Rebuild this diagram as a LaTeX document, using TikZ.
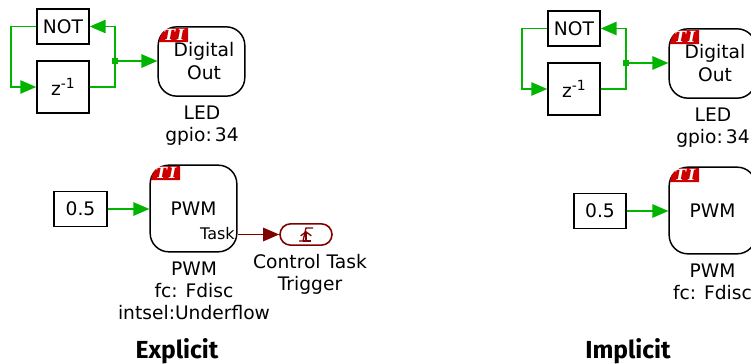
\documentclass[tikz,border=0pt]{standalone}
\usepackage{fontspec}
\usetikzlibrary{arrows.meta}
\usetikzlibrary{shapes}
\usetikzlibrary{calc}
\setmainfont{DejaVu Sans}
\newfontfamily\capfont{Fira Sans}
\newfontfamily\tagfont{DejaVu Serif}
\definecolor{wiregreen}{RGB}{0,180,0}
\definecolor{taskred}{RGB}{128,0,0}
\definecolor{tagred}{RGB}{204,0,0}
\tikzset{
  wire/.style={wiregreen, line width=1.3pt},
  wirearrow/.style={wire, -{Triangle[length=12pt,width=10pt]}},
  taskarrow/.style={taskred, line width=1.3pt, -{Triangle[length=12pt,width=10pt]}},
  sqblock/.style={draw=black, line width=1.1pt, inner sep=0pt, font=\fontsize{14}{16}\selectfont, minimum width=39pt},
  tiblock/.style={draw=black, line width=1.1pt, rounded corners=14pt, inner sep=0pt, minimum width=65pt, align=center, font=\fontsize{14}{16.5}\selectfont},
  tilabel/.style={align=center, inner sep=0pt, font=\fontsize{14}{16.5}\selectfont},
  titag/.style={inner sep=0pt, text=white, font=\fontsize{11.5}{12}\tagfont\bfseries\itshape},
  capsule/.style={draw=taskred, line width=1.2pt, rounded rectangle, inner sep=0pt, minimum width=39pt, minimum height=16pt},
  captext/.style={inner sep=0pt, font=\fontsize{18.5}{20}\capfont\bfseries}
}
% red corner of a block, #1 #2 = top left of the block
\newcommand\tibadge[3]{
  \fill[tagred, shift={(#1,#2)}] (1,15) .. controls (2,6) and (7,1) .. (15,1) -- (30,1) -- (30,15) --cycle;
  \node[titag] (#3) at (#1+16,#2+8) {T\kern1.5pt I};
}
% the NOT / delay loop with the digital output, #1 #2 = top left of NOT
\newcommand\ledloop[3]{
  \node[sqblock, minimum height=26pt] (#3not) at (#1+26,#2+17.5) {NOT};
  \node[sqblock, minimum height=39pt] (#3z) at (#1+26,#2+78) {z\raisebox{5pt}{\fontsize{10.5}{12}\selectfont -1}};
  \node[tiblock, minimum height=52pt] (#3out) at (#1+164.5,#2+52.5) {};
  \node[inner sep=0pt, align=center, font=\fontsize{14}{17}\selectfont] (#3outtxt) at (#1+167,#2+52) {Digital\\Out};
  \tibadge{#1+121}{#2+18}{#3tag}
  \node[tilabel] (#3led) at (#1+165,#2+116.5) {LED\\gpio:\,34};
  \coordinate (#3left) at (#1-26,#2+17.5);
  \coordinate (#3right) at (#1+78,#2+78);
  \coordinate (#3dot) at (#1+78,#2+52);
  \draw[wirearrow] (#3not.west) -- (#3left) -- (#3left |- #3z) -- (#3z.west);
  \draw[wirearrow] (#3z.east) -- (#3right) -- (#3right |- #3not) -- (#3not.east);
  \draw[wirearrow] (#3dot) -- (#3dot -| #3out.west);
  \fill[wiregreen] ($(#3dot)+(-3,-3)$) rectangle ($(#3dot)+(3,3)$);
}

\begin{document}
\begin{tikzpicture}[x=0.75pt,y=-0.75pt]
\useasboundingbox (0,0) rectangle (751,364);

\ledloop{37}{9}{a}
\ledloop{548}{11}{b}

% explicit pwm
\node[sqblock, minimum width=39.5pt, minimum height=26pt] (apwmin) at (80.5,209) {0.5};
\node[tiblock, minimum height=65pt] (apwm) at (193.5,208.5) {PWM};
\tibadge{150}{165}{apwmtag}
\node[inner sep=0pt, anchor=east, font=\fontsize{12}{14}\selectfont] (atask) at (235,234) {Task};
\node[tilabel] (apwmlab) at (194,290.5) {PWM\\fc: Fdisc\\intsel:Underflow};
\node[capsule] (atrig) at (306,234.5) {};
\node[tilabel] (atriglab) at (310,274.5) {Control Task\\Trigger};
\draw[wirearrow] (apwmin.east) -- (apwm.west |- apwmin);
\coordinate (ataskout) at (apwm.east |- atrig);
\draw[taskarrow] (ataskout) -- (atrig.west);
% edge symbol
\draw[taskred, line width=1pt] (299,241) -- (303,241) -- (306,228) -- (313,228);
\draw[taskred, line width=1pt, -{Straight Barb[length=3pt,width=8pt]}] (306,241) -- (306,231);
\draw[taskred, line width=1pt] (303,241) -- (311,241);

% implicit pwm
\node[sqblock, minimum width=39pt, minimum height=26pt] (bpwmin) at (600,211) {0.5};
\node[tiblock, minimum height=65pt] (bpwm) at (712.5,210.5) {PWM};
\tibadge{669}{167}{bpwmtag}
\node[tilabel] (bpwmlab) at (712.5,281.5) {PWM\\fc: Fdisc};
\draw[wirearrow] (bpwmin.east) -- (bpwm.west |- bpwmin);

\node[captext] (acap) at (177,351) {Explicit};
\node[captext] (bcap) at (628,351) {Implicit};
\end{tikzpicture}
\end{document}
